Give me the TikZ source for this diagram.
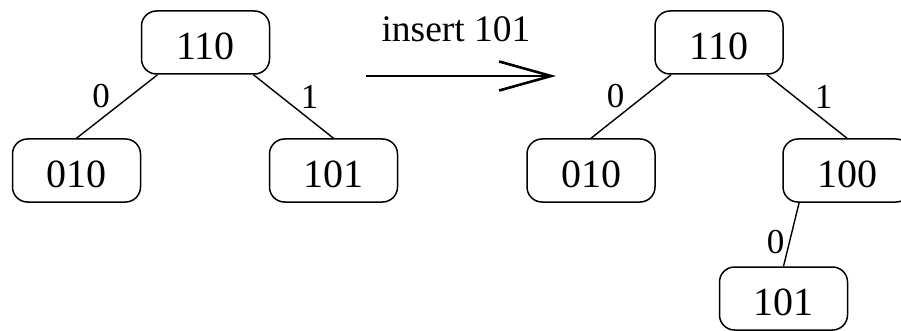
\documentclass[tikz,border=0pt]{standalone}
\usepackage{fontspec}
\setmainfont{Liberation Serif}
\usetikzlibrary{calc,arrows.meta}
\tikzset{
  keybox/.style={draw, line width=1.5pt, rounded corners=15pt, minimum width=128pt,
    minimum height=63pt, inner sep=0pt, text height=33.5pt, text depth=0pt,
    font=\fontsize{40}{40}\selectfont},
  edgeline/.style={line width=1.4pt},
  elabel/.style={inner sep=0pt, font=\fontsize{35}{35}\selectfont},
  bigarrow/.style={line width=2.6pt, -{Straight Barb[length=52pt,width=29pt]}}
}
\begin{document}
\begin{tikzpicture}[x=1pt,y=-1pt]
\useasboundingbox (0,0) rectangle (901,331);
\clip (0,0) rectangle (901,331);
% left tree
\node[keybox] (lroot) at (205.5,42.5) {110};
\node[keybox] (lzero) at (76.5,170.5) {010};
\node[keybox] (lone) at (333.5,170.5) {101};
\draw[edgeline] ($(lroot.south west)!0.13!(lroot.south east)$) -- (lzero.north);
\draw[edgeline] ($(lroot.south west)!0.87!(lroot.south east)$) -- (lone.north);
\node[elabel] (l0) at (101,96.5) {0};
\node[elabel] (l1) at (309.5,97) {1};
% arrow
\coordinate (as) at (366,76);
\coordinate (ae) at (556,76);
\draw[bigarrow] (as) -- (ae);
\node[anchor=base, inner sep=0pt, font=\fontsize{37.5}{37.5}\selectfont] (ins) at (456,42) {insert 101};
% right tree
\node[keybox] (rroot) at (719,42.5) {110};
\node[keybox] (rzero) at (591,170.5) {010};
\node[keybox] (rone) at (847,170.5) {100};
\node[keybox] (rnew) at (783.5,298.5) {101};
\draw[edgeline] ($(rroot.south west)!0.13!(rroot.south east)$) -- (rzero.north);
\draw[edgeline] ($(rroot.south west)!0.87!(rroot.south east)$) -- (rone.north);
\draw[edgeline] ($(rone.south west)!0.13!(rone.south east)$) -- (rnew.north);
\node[elabel] (r0) at (615.5,96.5) {0};
\node[elabel] (r1) at (823.5,97) {1};
\node[elabel] (r00) at (775.5,242.5) {0};
\end{tikzpicture}
\end{document}
